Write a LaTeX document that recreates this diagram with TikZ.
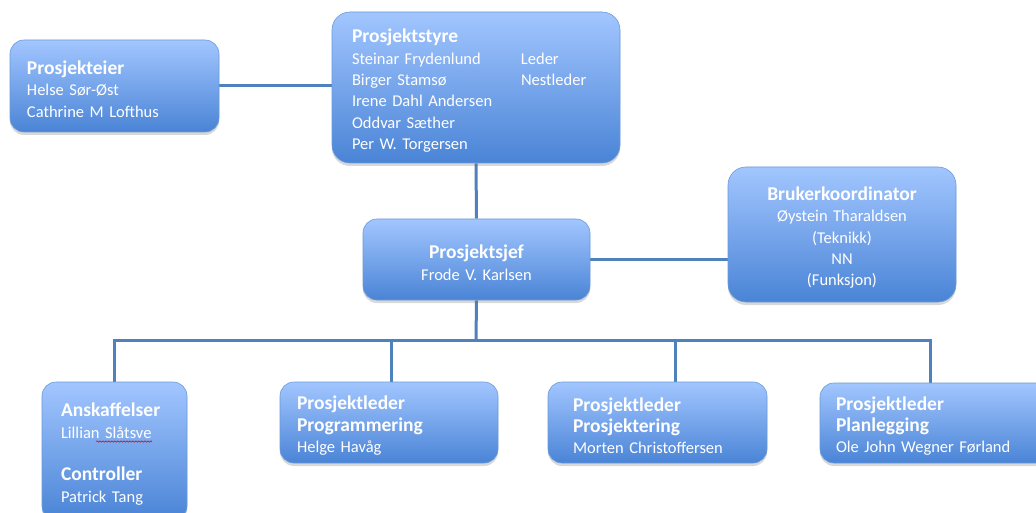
\documentclass[tikz,border=0pt]{standalone}
\usepackage{fontspec}
\setmainfont{Carlito}
\usetikzlibrary{shadows,backgrounds,decorations.pathmorphing}
\definecolor{linec}{HTML}{4F81BD}
\definecolor{boxtop}{HTML}{A2C6FF}
\definecolor{boxbot}{HTML}{4A84D6}
\definecolor{boxedge}{HTML}{6B9AD6}
\newcommand{\ttl}[1]{{\bfseries\fontsize{19.5}{21.3}\selectfont #1}}
\newcommand{\fttl}[1]{{\rule{0pt}{20pt}\bfseries\fontsize{19.5}{21.3}\selectfont #1}}
\tikzset{
  orgbox/.style={rectangle, rounded corners=14pt, draw=boxedge, line width=0.6pt,
    top color=boxtop, bottom color=boxbot, text=white,
    font=\fontsize{16.5}{21.3}\selectfont, inner ysep=0pt,
    drop shadow={shadow xshift=0pt, shadow yshift=-3pt, opacity=0.25, fill=black!60}},
  leftbox/.style={orgbox, align=left},
  midbox/.style={orgbox, align=center},
  conn/.style={draw=linec, line width=3pt}
}
\begin{document}
\begin{tikzpicture}[x=1pt,y=-1pt]
\useasboundingbox (0,0) rectangle (1036,513);

\node[leftbox, text width=175pt, inner xsep=17pt, minimum height=92pt] (eier) at (114.5,86)
  {\fttl{Prosjekteier}\\Helse Sør-Øst\\Cathrine M Lofthus};

\node[leftbox, rounded corners=18pt, text width=248pt, inner xsep=20pt, minimum height=151pt] (styre) at (476,87.5)
  {\fttl{Prosjektstyre}\\\makebox[169pt][l]{Steinar Frydenlund}Leder\\\makebox[169pt][l]{Birger Stamsø}Nestleder\\Irene Dahl Andersen\\Oddvar Sæther\\Per W. Torgersen};

\node[midbox, text width=207pt, inner xsep=10pt, minimum height=81pt] (sjef) at (476.5,259.5)
  {\fttl{Prosjektsjef}\\Frode V. Karlsen};

\node[midbox, rounded corners=18pt, text width=208pt, inner xsep=10pt, minimum height=135pt] (bruker) at (842,234.5)
  {\fttl{Brukerkoordinator}\\Øystein Tharaldsen\\(Teknikk)\\NN\\(Funksjon)};

\node[leftbox, text width=107pt, inner xsep=19pt, minimum height=138pt] (ansk) at (114.5,451)
  {\fttl{Anskaffelser}\\Lillian Slåtsve\\[21.3pt]\ttl{Controller}\\Patrick Tang};

\node[leftbox, text width=184pt, inner xsep=17pt, minimum height=81pt] (prog) at (389,422.5)
  {\fttl{Prosjektleder}\\\ttl{Programmering}\\Helge Havåg};

\node[leftbox, text width=169pt, inner xsep=25pt, minimum height=81pt] (prosj) at (657.5,422.5)
  {\fttl{Prosjektleder}\\\ttl{Prosjektering}\\Morten Christoffersen};

\node[leftbox, text width=198pt, inner xsep=16pt, minimum height=80pt] (plan) at (935,423)
  {\fttl{Prosjektleder}\\\ttl{Planlegging}\\Ole John Wegner Førland};

\coordinate (bus) at (476,340);
\coordinate (busL) at (114.5,340);
\coordinate (busR) at (930,340);

\draw[red!80!black, line width=0.5pt, decorate, decoration={snake, amplitude=0.7pt, segment length=3pt}] (96,441.5) -- (152,441.5);

\begin{pgfonlayer}{background}
\fill[white] (0,0) rectangle (1036,513);
\draw[conn] (eier.east) -- (eier.east -| styre.west);
\draw[conn] (styre.south) -- (sjef.north);
\draw[conn] (sjef.east) -- (sjef.east -| bruker.west);
\draw[conn] (sjef.south) -- (bus);
\draw[conn, line cap=rect] (ansk.north) -- (busL) -- (busR) -- ([xshift=-5pt]plan.north);
\draw[conn] ([xshift=2pt]prog.north) -- ([xshift=2pt]prog.north |- bus);
\draw[conn] ([xshift=17.5pt]prosj.north) -- ([xshift=17.5pt]prosj.north |- bus);
\end{pgfonlayer}
\end{tikzpicture}
\end{document}
